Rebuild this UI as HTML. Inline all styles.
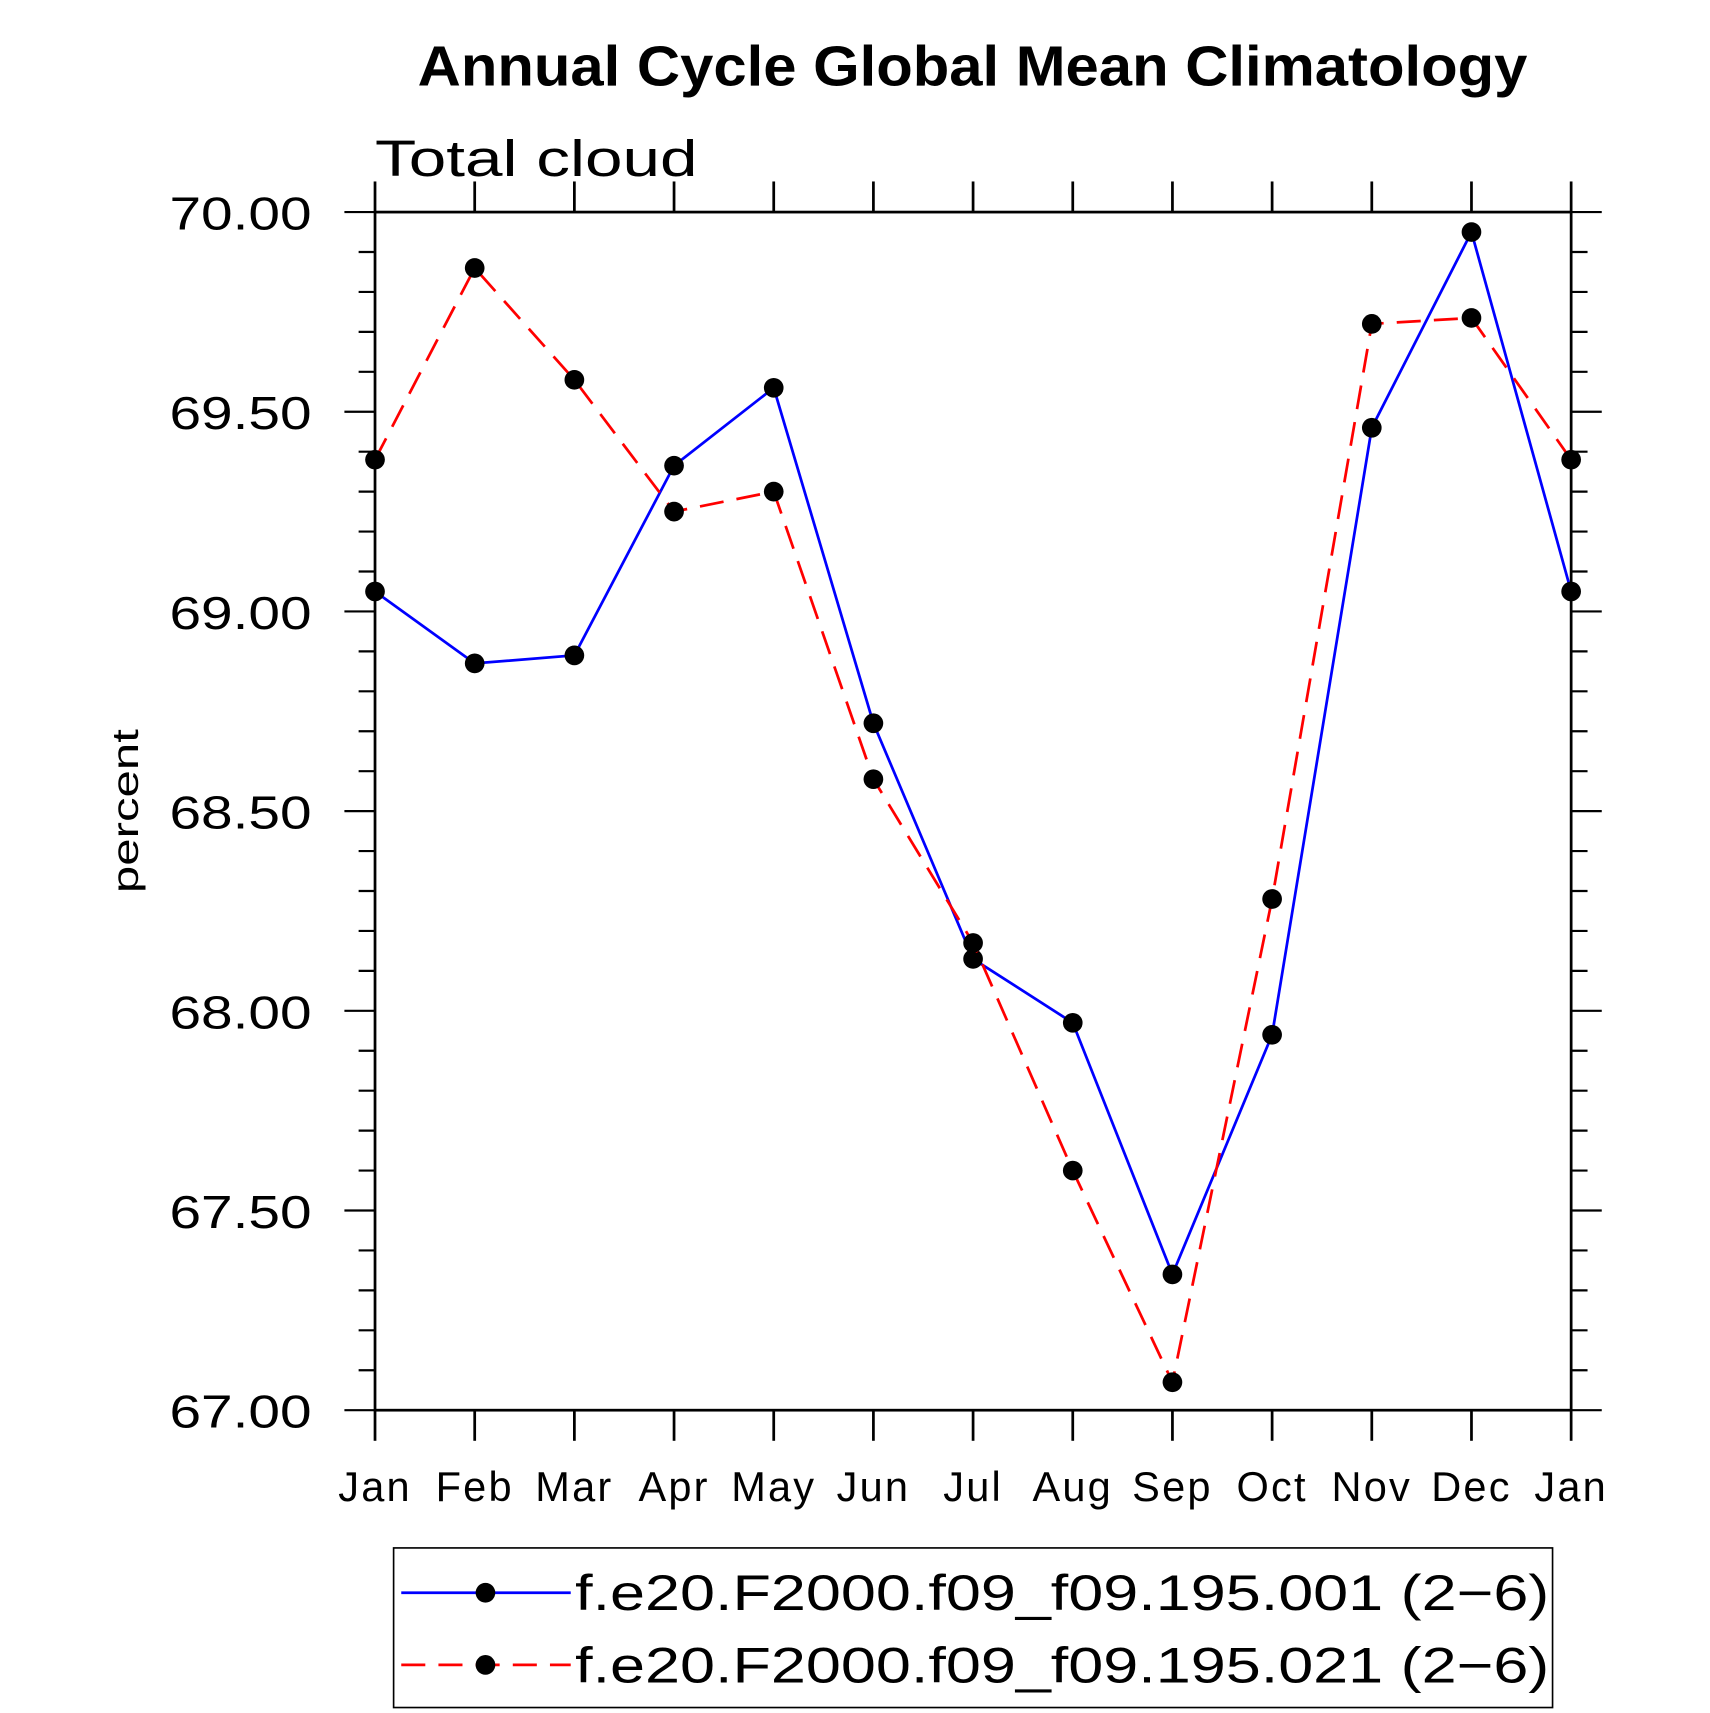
<!DOCTYPE html>
<html><head><meta charset="utf-8"><style>
html,body{margin:0;padding:0;background:#fff;}
svg{display:block;}
text{font-family:"Liberation Sans",sans-serif;}
</style></head><body>
<svg id="chart" width="1710" height="1713" viewBox="0 0 1564 1567" preserveAspectRatio="none" xmlns="http://www.w3.org/2000/svg">
<text x="382" y="78" font-size="52" font-weight="bold" textLength="1015" lengthAdjust="spacingAndGlyphs">Annual Cycle Global Mean Climatology</text>
<text x="343" y="161" font-size="47" font-weight="300" textLength="295" lengthAdjust="spacingAndGlyphs">Total cloud</text>
<text transform="translate(126,742) rotate(-90)" text-anchor="middle" font-size="34" font-weight="300" textLength="150" lengthAdjust="spacingAndGlyphs">percent</text>
<g id="axes"></g>
<g id="series"></g>
<rect x="360" y="1416" width="1060" height="146" fill="none" stroke="#000" stroke-width="1.5"/>
<line x1="367" y1="1457" x2="522" y2="1457" stroke="#0000ff" stroke-width="2.5"/>
<circle cx="444" cy="1457" r="9"/>
<text x="526" y="1473" font-size="46" font-weight="300" textLength="891" lengthAdjust="spacingAndGlyphs">f.e20.F2000.f09_f09.195.001 (2−6)</text>
<line x1="367" y1="1523" x2="522" y2="1523" stroke="#ff0000" stroke-width="2.5" stroke-dasharray="22,12"/>
<circle cx="444" cy="1523" r="9"/>
<text x="526" y="1539" font-size="46" font-weight="300" textLength="891" lengthAdjust="spacingAndGlyphs">f.e20.F2000.f09_f09.195.021 (2−6)</text>
</svg>
<script>
const months = ["Jan","Feb","Mar","Apr","May","Jun","Jul","Aug","Sep","Oct","Nov","Dec","Jan"];
const series001 = [69.05,68.87,68.89,69.365,69.56,68.72,68.13,67.97,67.34,67.94,69.46,69.95,69.05];
const series021 = [69.38,69.86,69.58,69.25,69.30,68.58,68.17,67.60,67.07,68.28,69.72,69.735,69.38];
const yTicks = [67.0,67.5,68.0,68.5,69.0,69.5,70.0];
const yTickLabels = ["67.00","67.50","68.00","68.50","69.00","69.50","70.00"];
const yMin = 67, yMax = 70;

const L=343,R=1437,T=194,B=1290;
const NS="http://www.w3.org/2000/svg";
function xs(i){return L+(R-L)*i/(months.length-1);}
function ys(v){return B-(B-T)*(v-yMin)/(yMax-yMin);}
function mk(tag,attrs,parent){const e=document.createElementNS(NS,tag);for(const k in attrs)e.setAttribute(k,attrs[k]);parent.appendChild(e);return e;}
const ax=document.getElementById('axes');
const fr=mk('rect',{x:L,y:T,width:R-L,height:B-T,fill:'none',stroke:'#000','stroke-width':2.5},ax);


months.forEach((m,i)=>{
  const x=xs(i);
  const t1=mk('line',{x1:x,y1:B,x2:x,y2:B+28,stroke:'#000','stroke-width':2.5},ax);
  
  
  const t2=mk('line',{x1:x,y1:T,x2:x,y2:T-28,stroke:'#000','stroke-width':2.5},ax);
  
  
  const lb=mk('text',{x:x,y:1373,'text-anchor':'middle','font-size':38,'font-weight':300,'letter-spacing':2},ax);
  lb.textContent=m;
  
  
});
for(let v=yMin; v<=yMax+1e-9; v+=0.1){
  const y=ys(v);
  const major=Math.abs(v*2-Math.round(v*2))<1e-6;
  const len=major?28:15;
  const a=mk('line',{x1:L-len,y1:y,x2:L,y2:y,stroke:'#000','stroke-width':2},ax);
  
  
  const b=mk('line',{x1:R,y1:y,x2:R+len,y2:y,stroke:'#000','stroke-width':2},ax);
  
  
}
yTicks.forEach((v,i)=>{
  const t=mk('text',{x:155,y:ys(v)+16,'font-size':42,'font-weight':300,textLength:130,lengthAdjust:'spacingAndGlyphs'},ax);
  t.textContent=yTickLabels[i];
  
  
});
const sg=document.getElementById('series');
function drawSeries(vals,color,dash,name){
  const pts=vals.map((v,i)=>xs(i)+','+ys(v)).join(' ');
  const pl=mk('polyline',{points:pts,fill:'none',stroke:color,'stroke-width':2.5,'stroke-dasharray':dash},sg);
  
  
  vals.forEach((v,i)=>{
    const c=mk('circle',{cx:xs(i),cy:ys(v),r:9,fill:'#000'},sg);
    
    
  });
}
drawSeries(series001,'#0000ff','none','series-001');
drawSeries(series021,'#ff0000','22,12','series-021');
</script>
</body></html>
